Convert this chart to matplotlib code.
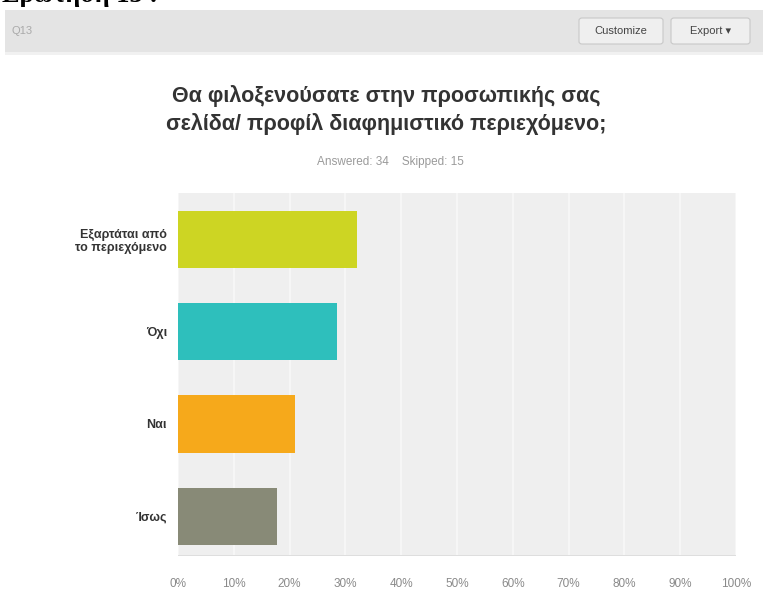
#Horizontal bar chart of survey question Q13 (SurveyMonkey style screenshot)
import numpy as np
import matplotlib.pyplot as plt
from matplotlib.patches import Rectangle, FancyBboxPatch

plt.rcParams['font.family'] = ['Liberation Sans', 'DejaVu Sans']

#survey data
answers = ['Εξαρτάται από\nτο περιεχόμενο', 'Όχι', 'Ναι', 'Ίσως']
percent = [32.0, 28.5, 21.0, 17.8]
bar_colors = ['#cdd523', '#2ebfbc', '#f6a91b', '#888a77']
tick_values = np.arange(0, 101, 10)
tick_labels = ['0%', '10%', '20%', '30%', '40%', '50%', '60%', '70%', '80%', '90%', '100%']

W, H = 763, 608
fig = plt.figure(figsize=(W / 100, H / 100), dpi=100)
fig.set_facecolor('white')

#heading of the document, top part cut off as in the screenshot
fig.text(2 / W, 1 + 17 / H, 'Ερώτηση 13 :', fontsize=19, fontweight='bold',
         family=['Liberation Serif', 'DejaVu Serif'], va='top', ha='left')

#grey header bar with Q13 and buttons
fig.patches.append(Rectangle((5 / W, 1 - 52 / H), 758 / W, 42 / H, transform=fig.transFigure,
                             facecolor='#e4e4e4', edgecolor='none', zorder=0))
fig.patches.append(Rectangle((5 / W, 1 - 55 / H), 758 / W, 3 / H, transform=fig.transFigure,
                             facecolor='#f1f1f1', edgecolor='none', zorder=0))
fig.text(12 / W, 1 - 31 / H, 'Q13', fontsize=8, color='#aaaaaa', va='center')
for x0, w, label in [(579, 84, 'Customize'), (671, 79, 'Export ▾')]:
    fig.patches.append(FancyBboxPatch((x0 / W, 1 - 44 / H), w / W, 26 / H,
                                      boxstyle='round,pad=0,rounding_size=0.004',
                                      transform=fig.transFigure, facecolor='#efefef',
                                      edgecolor='#c8c8c8', linewidth=0.8, zorder=1))
    fig.text((x0 + w / 2) / W, 1 - 31 / H, label, fontsize=8, color='#444444',
             ha='center', va='center', family=['Liberation Sans', 'DejaVu Sans'])

#title and subtitle
fig.text(386 / W, 1 - 96 / H, 'Θα φιλοξενούσατε στην προσωπικής σας', fontsize=15.5,
         fontweight='bold', color='#333333', ha='center', va='center')
fig.text(386 / W, 1 - 124 / H, 'σελίδα/ προφίλ διαφημιστικό περιεχόμενο;', fontsize=15.5,
         fontweight='bold', color='#333333', ha='center', va='center')
fig.text(390 / W, 1 - 162 / H, 'Answered: 34    Skipped: 15', fontsize=8.5,
         color='#9a9a9a', ha='center', va='center')

#plot area
ax = fig.add_axes([178 / W, 1 - 556 / H, 558 / W, 363 / H])
ax.set_facecolor('#efefef')
y = np.arange(len(answers))
ax.barh(y, percent, height=0.62, color=bar_colors, zorder=3)
ax.set_xlim(0, 100)
ax.set_ylim(3.43, -0.5)
ax.set_xticks(tick_values)
ax.set_xticklabels(tick_labels, fontsize=8.5, color='#8a8a8a')
ax.set_yticks(y)
ax.set_yticklabels(answers, fontsize=9, color='#333333', fontweight='bold')
ax.tick_params(length=0, axis='x', pad=16)
ax.tick_params(length=0, axis='y', pad=8)
ax.grid(axis='x', color='#f8f8f8', linewidth=1.2, zorder=1)
for s in ax.spines.values():
    s.set_visible(False)
ax.axhline(3.43, color='#dcdcdc', linewidth=2, zorder=2)

plt.savefig('out.png', dpi=100)
